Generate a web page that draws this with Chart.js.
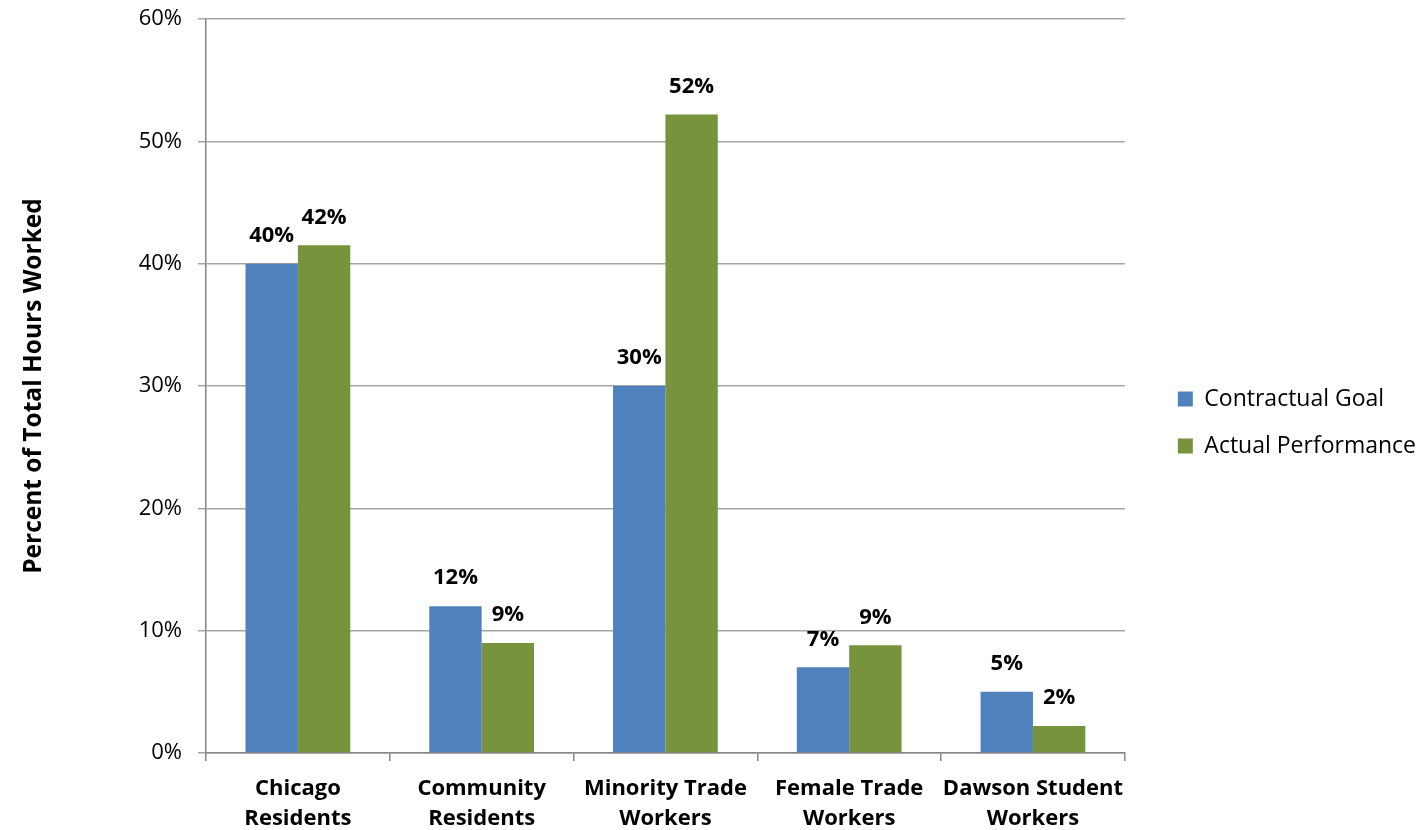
<!DOCTYPE html>
<html>
<head>
<meta charset="utf-8">
<script src="https://cdn.jsdelivr.net/npm/chart.js@4.4.1/dist/chart.umd.min.js"></script>
<style>
   html, body { margin: 0; padding: 0; background: #fff; }
   #wrap { width: 1426px; height: 830px; }
</style>
</head>
<body>
<div id="wrap"><canvas id="myChart" width="1426" height="830"></canvas></div>
<script>
const categories = [["Chicago", "Residents"], ["Community", "Residents"], ["Minority Trade", "Workers"], ["Female Trade", "Workers"], ["Dawson Student", "Workers"]];
const goalValues = [40, 12, 30, 7, 5];
const actualValues = [41.5, 9, 52.2, 8.8, 2.2];
const yTicks = [0, 10, 20, 30, 40, 50, 60];
const seriesNames = ["Contractual Goal", "Actual Performance"];

const FONT = "'Open Sans', Lato, sans-serif";

// 막대 위에 값 표시
const barLabels = {
   id: 'barLabels',
   afterDatasetsDraw(chart) {
      const ctx = chart.ctx;
      ctx.save();
      ctx.font = `bold 22px ${FONT}`;
      ctx.fillStyle = '#000';
      ctx.textAlign = 'center';
      ctx.textBaseline = 'middle';
      chart.data.datasets.forEach((ds, i) => {
         chart.getDatasetMeta(i).data.forEach((bar, j) => {
            ctx.fillText(Math.round(ds.data[j]) + '%', bar.x, bar.y - 28);
         });
      });
      ctx.restore();
   }
};

const ctx = document.getElementById('myChart').getContext('2d');
new Chart(ctx, {
   type: 'bar',
   data: {
      labels: categories,
      datasets: [
         { label: seriesNames[0], data: goalValues, backgroundColor: '#4F81BD', borderWidth: 0 },
         { label: seriesNames[1], data: actualValues, backgroundColor: '#77933C', borderWidth: 0 }
      ]
   },
   options: {
      responsive: false,
      animation: false,
      categoryPercentage: 0.57,
      barPercentage: 1,
      layout: { padding: { top: 0, bottom: 0, left: 19, right: 0 } },
      scales: {
         x: {
            afterFit: s => { s.height = 77; },
            grid: { offset: true, drawOnChartArea: false, drawTicks: true, tickLength: 8, color: '#868686', lineWidth: 1.5 },
            border: { color: '#868686', width: 1.5 },
            ticks: { color: '#000', font: { family: FONT, size: 22, weight: 'bold', lineHeight: 1.4 }, padding: 12, maxRotation: 0, autoSkip: false }
         },
         y: {
            min: 0, max: 60,
            afterBuildTicks: s => { s.ticks = yTicks.map(v => ({ value: v })); },
            afterFit: s => { s.width = 187; s.paddingTop = 19; s.paddingBottom = 0; },
            grid: { color: '#a6a6a6', lineWidth: 1.5, tickLength: 8 },
            border: { color: '#868686', width: 1.5 },
            ticks: { color: '#000', font: { family: FONT, size: 22 }, padding: 16, callback: v => v + '%' },
            title: { display: true, text: 'Percent of Total Hours Worked', color: '#000', font: { family: FONT, size: 24.5, weight: 'bold' }, padding: 0 }
         },
         y2: {
            position: 'right',
            display: true,
            grid: { display: false },
            border: { display: false },
            ticks: { display: false },
            afterFit: s => { s.width = 29; }
         }
      },
      plugins: {
         legend: {
            position: 'right',
            maxWidth: 320,
            title: { display: true, text: '', font: { size: 1 }, padding: { top: 14, bottom: 0 } },
            labels: { color: '#000', font: { family: FONT, size: 23 }, boxWidth: 15, boxHeight: 15, padding: 24 }
         },
         tooltip: { enabled: false }
      }
   },
   plugins: [barLabels]
});
</script>
</body>
</html>
